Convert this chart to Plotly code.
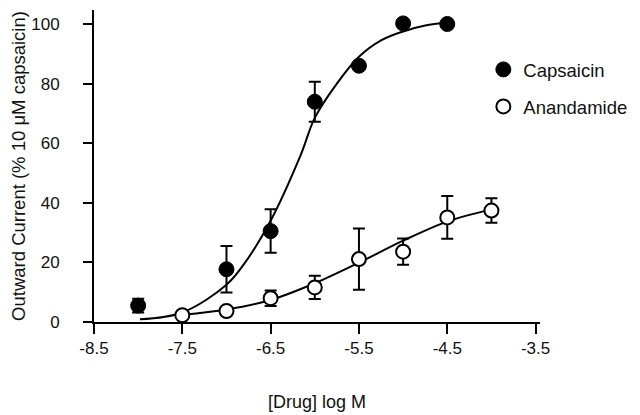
import plotly.graph_objects as go

# Data
cap_x = [-8.0, -7.0, -6.5, -6.0, -5.5, -5.0, -4.5]
cap_y = [5.5, 17.7, 30.5, 73.9, 86.0, 100.2, 100.0]
cap_err = [2.3, 7.8, 7.3, 6.7, 0, 0, 0]

ana_x = [-7.5, -7.0, -6.5, -6.0, -5.5, -5.0, -4.5, -4.0]
ana_y = [2.3, 3.7, 8.0, 11.6, 21.1, 23.6, 35.1, 37.4]
ana_err = [0, 0, 2.6, 3.9, 10.3, 4.4, 7.2, 4.1]

# Fitted curves
cap_fit_x = [-7.98, -7.5, -7.0, -6.8, -6.5, -6.16, -6.0, -5.75, -5.5, -5.25, -5.0, -4.75, -4.5]
cap_fit_y = [0.9, 3.2, 12.5, 19.5, 34.0, 56.0, 68.5, 80.0, 89.0, 94.5, 97.5, 99.5, 100.5]

ana_fit_x = [-7.5, -7.0, -6.5, -6.0, -5.5, -5.0, -4.5, -4.0]
ana_fit_y = [2.4, 4.2, 7.4, 13.0, 19.9, 27.3, 33.7, 37.8]

x_ticks = [-8.5, -7.5, -6.5, -5.5, -4.5, -3.5]
y_ticks = [0, 20, 40, 60, 80, 100]

FONT = "Liberation Sans, Arial, sans-serif"
INK = "#111111"

fig = go.Figure()

fig.add_trace(go.Scatter(x=cap_fit_x, y=cap_fit_y, mode="lines",
                         line=dict(color="black", width=2, shape="spline", smoothing=1),
                         showlegend=False, hoverinfo="skip"))
fig.add_trace(go.Scatter(x=ana_fit_x, y=ana_fit_y, mode="lines",
                         line=dict(color="black", width=2, shape="spline", smoothing=1),
                         showlegend=False, hoverinfo="skip"))

fig.add_trace(go.Scatter(x=cap_x, y=cap_y, mode="markers", name="Capsaicin",
                         legendgroup="cap",
                         marker=dict(symbol="circle", size=15, color="black",
                                     line=dict(color="black", width=1)),
                         error_y=dict(type="data", array=cap_err, visible=True,
                                      color="black", thickness=2, width=6)))
fig.add_trace(go.Scatter(x=ana_x, y=ana_y, mode="markers", name="Anandamide",
                         legendgroup="ana",
                         marker=dict(symbol="circle", size=14, color="white",
                                     line=dict(color="black", width=2)),
                         error_y=dict(type="data", array=ana_err, visible=True,
                                      color="black", thickness=2, width=6)))

# The page body adds an 8px margin, so the figure is sized/offset to compensate
fig.update_layout(
    width=632, height=407,
    margin=dict(l=86, r=100, t=2, b=93, autoexpand=False),
    paper_bgcolor="white", plot_bgcolor="white",
    font=dict(family=FONT, size=17, color=INK),
    legend=dict(x=0.873, y=0.869, xanchor="left", yanchor="top",
                font=dict(size=18.5, color=INK), tracegroupgap=10,
                itemwidth=30, bgcolor="rgba(0,0,0,0)"),
    xaxis=dict(range=[-8.5, -3.45], tickvals=x_ticks,
               ticktext=[str(v) for v in x_ticks],
               automargin=False,
               showgrid=False, zeroline=False, showline=True,
               linecolor="black", linewidth=2,
               ticks="outside", ticklen=10, tickwidth=2, tickcolor="black",
               ticklabelstandoff=0,
               tickfont=dict(size=17, color=INK),
               title=dict(text="[Drug] log M", font=dict(size=18, color=INK), standoff=38)),
    yaxis=dict(range=[0, 104.7], tickvals=y_ticks,
               automargin=False,
               showgrid=False, zeroline=False, showline=True,
               linecolor="black", linewidth=2,
               ticks="outside", ticklen=9, tickwidth=2, tickcolor="black",
               ticklabelstandoff=20,
               tickfont=dict(size=17, color=INK),
               title=dict(text="Outward Current (% 10 μM capsaicin)",
                          font=dict(size=18.5, color=INK), standoff=14)),
)

fig.write_html("out.html")
